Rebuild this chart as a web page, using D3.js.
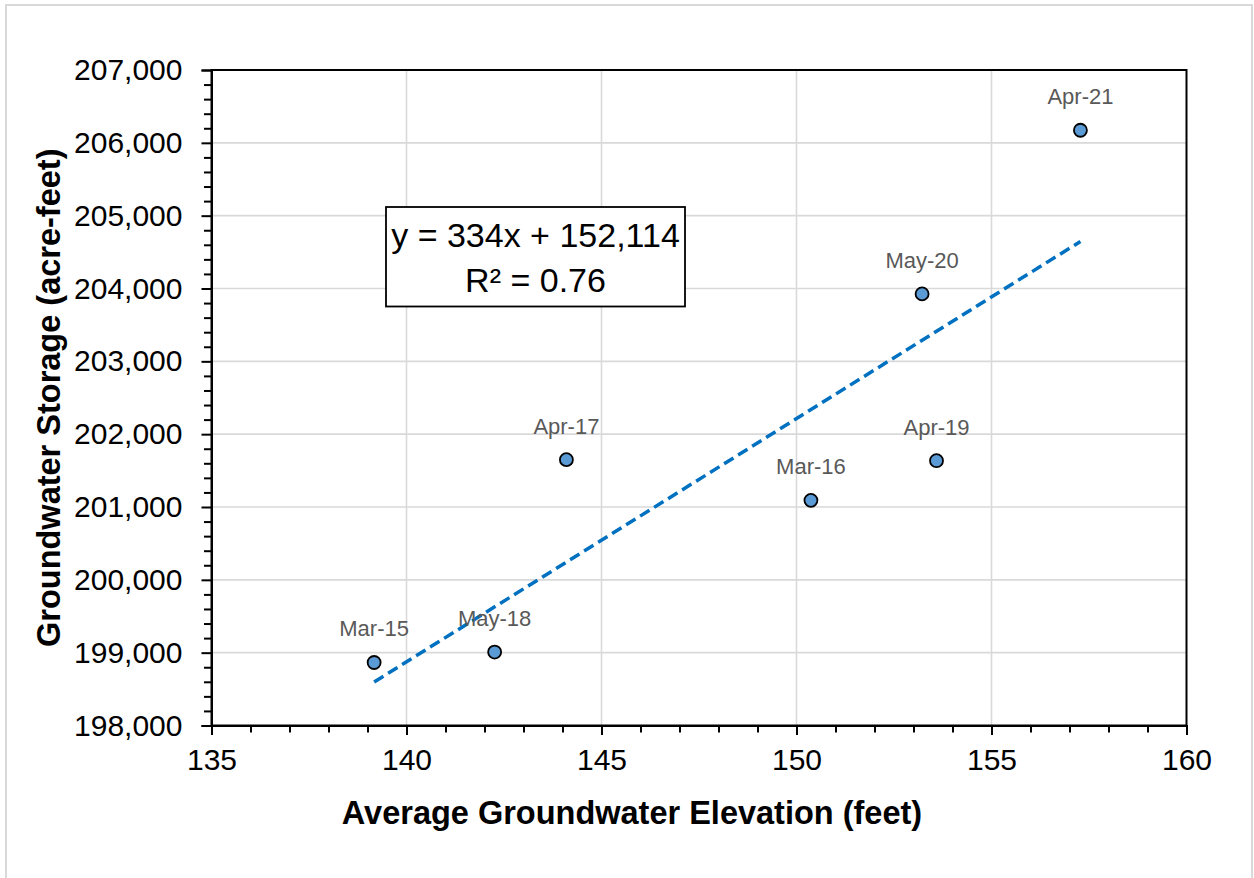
<!DOCTYPE html>
<html>
<head>
<meta charset="utf-8">
<script src="https://cdn.jsdelivr.net/npm/d3@7"></script>
<style>
  body { margin: 0; background: #ffffff; }
  text { font-family: "Liberation Sans", Arial, sans-serif; }
</style>
</head>
<body>
<svg id="chart" width="1254" height="878"></svg>
<script>
// Survey dates, average groundwater elevation (ft) and storage (acre-feet)
const sampleLabels = ["Mar-15", "Mar-16", "Apr-17", "May-18", "Apr-19", "May-20", "Apr-21"];
const elevationFt = [139.17, 150.37, 144.10, 142.26, 153.59, 153.22, 157.28];
const storageAf = [198865, 201091, 201650, 199008, 201636, 203926, 206173];

// Axis ticks
const xTicks = [135, 140, 145, 150, 155, 160];
const yTicks = [198000, 199000, 200000, 201000, 202000, 203000, 204000, 205000, 206000, 207000];

// Linear trendline
const trendSlope = 334;
const trendIntercept = 152114;
const trendR2 = 0.76;

const svg = d3.select("#chart");
const plot = { left: 211.5, right: 1186.5, top: 70, bottom: 725.5 };

const x = d3.scaleLinear().domain([135, 160]).range([plot.left, plot.right]);
const y = d3.scaleLinear().domain([198000, 207000]).range([plot.bottom, plot.top]);

// chart frame
svg.append("rect")
  .attr("x", 6).attr("y", 5).attr("width", 1246).attr("height", 890)
  .attr("fill", "#ffffff").attr("stroke", "#d9d9d9").attr("stroke-width", 2);

// gridlines
svg.append("g").selectAll("line").data(xTicks.slice(1, -1)).join("line")
  .attr("x1", d => x(d)).attr("x2", d => x(d))
  .attr("y1", plot.top).attr("y2", plot.bottom)
  .attr("stroke", "#d9d9d9").attr("stroke-width", 1.6);
svg.append("g").selectAll("line").data(yTicks.slice(1, -1)).join("line")
  .attr("x1", plot.left).attr("x2", plot.right)
  .attr("y1", d => y(d)).attr("y2", d => y(d))
  .attr("stroke", "#d9d9d9").attr("stroke-width", 1.6);

// plot border
svg.append("rect")
  .attr("x", plot.left).attr("y", plot.top)
  .attr("width", plot.right - plot.left).attr("height", plot.bottom - plot.top)
  .attr("fill", "none").attr("stroke", "#000000").attr("stroke-width", 2);

// minor ticks
const xMinor = d3.range(135, 160.001, 1).filter(v => v % 5 !== 0);
const yMinor = d3.range(198000, 207000.1, 200).filter(v => v % 1000 !== 0);

const xMinorAxis = svg.append("g").attr("transform", `translate(0,${plot.bottom})`)
  .call(d3.axisBottom(x).tickValues(xMinor).tickSize(7).tickFormat(""));
const yMinorAxis = svg.append("g").attr("transform", `translate(${plot.left},0)`)
  .call(d3.axisLeft(y).tickValues(yMinor).tickSize(7.5).tickFormat(""));
[xMinorAxis, yMinorAxis].forEach(g => {
  g.select(".domain").remove();
  g.selectAll(".tick line").attr("stroke", "#000").attr("stroke-width", 2);
});

// major axes
const xAxis = svg.append("g").attr("transform", `translate(0,${plot.bottom})`)
  .call(d3.axisBottom(x).tickValues(xTicks).tickSize(9.5).tickPadding(14).tickFormat(d3.format("d")));
const yAxis = svg.append("g").attr("transform", `translate(${plot.left},0)`)
  .call(d3.axisLeft(y).tickValues(yTicks).tickSize(10).tickPadding(19).tickFormat(d3.format(",")));
[xAxis, yAxis].forEach(g => {
  g.select(".domain").attr("stroke", "#000").attr("stroke-width", 2);
  g.selectAll(".tick line").attr("stroke", "#000").attr("stroke-width", 2);
  g.selectAll(".tick text")
    .attr("fill", "#000")
    .style("font-size", "30px")
    .style("font-family", "\"Liberation Sans\", Arial, sans-serif");
});
xAxis.selectAll(".tick text").attr("dy", "0.71em");
yAxis.selectAll(".tick text").attr("dy", "0.32em");

// trendline across the sampled range
const xExtent = d3.extent(elevationFt);
const trendLine = d3.line().x(d => x(d)).y(d => y(trendSlope * d + trendIntercept));
svg.append("path")
  .datum(xExtent)
  .attr("d", trendLine)
  .attr("fill", "none")
  .attr("stroke", "#0070c0")
  .attr("stroke-width", 3.5)
  .attr("stroke-dasharray", "11,5.5");

// data points
const points = sampleLabels.map((label, i) => ({ label, ex: elevationFt[i], st: storageAf[i] }));
svg.append("g").selectAll("circle").data(points).join("circle")
  .attr("cx", d => x(d.ex)).attr("cy", d => y(d.st))
  .attr("r", 6.5)
  .attr("fill", "#5b9bd5").attr("stroke", "#000").attr("stroke-width", 1.8);

// point labels
svg.append("g").selectAll("text").data(points).join("text")
  .attr("x", d => x(d.ex)).attr("y", d => y(d.st) - 26)
  .attr("text-anchor", "middle")
  .attr("fill", "#595959")
  .style("font-size", "22px")
  .text(d => d.label);

// regression equation box
const eqBox = svg.append("g");
eqBox.append("rect")
  .attr("x", 386).attr("y", 207).attr("width", 299).attr("height", 99.5)
  .attr("fill", "#ffffff").attr("stroke", "#000").attr("stroke-width", 1.8);
eqBox.append("text")
  .attr("x", 535.5).attr("y", 247).attr("text-anchor", "middle")
  .style("font-size", "34px").attr("fill", "#000")
  .text(`y = ${trendSlope}x + ${d3.format(",")(trendIntercept)}`);
eqBox.append("text")
  .attr("x", 535.5).attr("y", 292).attr("text-anchor", "middle")
  .style("font-size", "34px").attr("fill", "#000")
  .text(`R² = ${trendR2.toFixed(2)}`);

// axis titles
svg.append("text")
  .attr("x", 632).attr("y", 824).attr("text-anchor", "middle")
  .style("font-size", "32.5px").style("font-weight", "bold").attr("fill", "#000")
  .text("Average Groundwater Elevation (feet)");
svg.append("text")
  .attr("transform", `translate(60,${(plot.top + plot.bottom) / 2}) rotate(-90)`)
  .attr("text-anchor", "middle")
  .style("font-size", "32.5px").style("font-weight", "bold").attr("fill", "#000")
  .text("Groundwater Storage (acre-feet)");
</script>
</body>
</html>
